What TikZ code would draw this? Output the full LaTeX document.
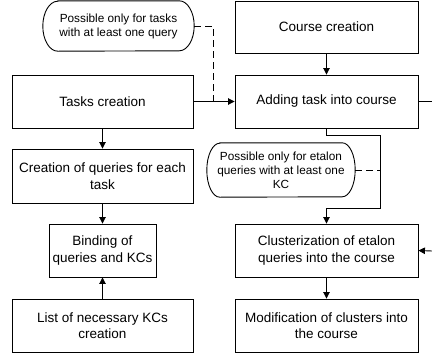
\documentclass[tikz,border=0pt]{standalone}
\usepackage{fontspec}
\setmainfont{Liberation Sans}
\usetikzlibrary{arrows.meta}
\newcommand\drawcallout[3]{%
  \draw[ln] ([xshift=#2]#1.north west) -- ([xshift=-#2]#1.north east)
    arc[start angle=90,end angle=-90,x radius=#2,y radius=#3]
    -- ([xshift=#2]#1.south west)
    arc[start angle=270,end angle=90,x radius=#2,y radius=#3] -- cycle;}
\begin{document}
\begin{tikzpicture}[x=1bp,y=1bp,
  ln/.style={line width=0.9bp},
  box/.style={ln, draw, inner sep=0pt, align=center,
    font=\fontsize{13.5bp}{16.5bp}\selectfont},
  note/.style={inner sep=0pt, align=center,
    font=\fontsize{11.8bp}{14bp}\selectfont},
  arr/.style={ln, -{Triangle[length=6.5bp,width=6.5bp]}},
  dsh/.style={ln, dash pattern=on 7bp off 4bp}]
\useasboundingbox (0,0) rectangle (432,-354);

% main boxes
\node[box, minimum width=183bp, minimum height=52bp] (course) at (326.5,-27) {Course creation};
\node[box, minimum width=183bp, minimum height=53bp] (adding) at (326.5,-101.5) {Adding task into course};
\node[box, minimum width=181bp, minimum height=53bp] (tasks) at (102.5,-101.5) {Tasks creation};
\node[box, minimum width=181bp, minimum height=54bp] (queries) at (102.5,-176) {Creation of queries for each\\task};
\node[box, minimum width=107bp, minimum height=53bp] (binding) at (102.5,-250.5) {Binding of\\queries and KCs};
\node[box, minimum width=181bp, minimum height=53bp] (list) at (102.5,-325.5) {List of necessary KCs\\creation};
\node[box, minimum width=183bp, minimum height=53bp] (clust) at (326.5,-250.5) {Clusterization of etalon\\queries into the course};
\node[box, minimum width=183bp, minimum height=53bp] (modif) at (326.5,-325.5) {Modification of clusters into\\the course};

% callouts
\node[note, minimum width=151bp, minimum height=50bp] (tnote) at (118.5,-26) {Possible only for tasks\\with at least one query};
\drawcallout{tnote}{15bp}{25bp}
\node[note, minimum width=148bp, minimum height=54bp] (enote) at (281,-170) {Possible only for etalon\\queries with at least one\\KC};
\drawcallout{enote}{13bp}{27bp}

% helper coordinates
\coordinate (j1) at (213,-101.5);
\coordinate (r1) at (380.5,-135);
\coordinate (r2) at (380.5,-208);
\coordinate (e1) at (380.5,-170);
\coordinate (out1) at (432,-101.5);
\coordinate (out2) at (432,-251);

% connectors
\draw[arr] (course.south) -- (adding.north);
\draw[arr] (tasks.east) -- (adding.west);
\draw[dsh] (tnote.east) -| (j1);
\draw[arr] (adding.south) |- (r1) -- (r2) -| (clust.north);
\draw[dsh] (enote.east) -- (e1);
\draw[ln] (adding.east) -- (out1);
\draw[arr] (out2) -- (clust.east);
\draw[arr] (tasks.south) -- (queries.north);
\draw[arr] (queries.south) -- (binding.north);
\draw[arr] (list.north) -- (binding.south);
\draw[arr] (clust.south) -- (modif.north);
\end{tikzpicture}
\end{document}
